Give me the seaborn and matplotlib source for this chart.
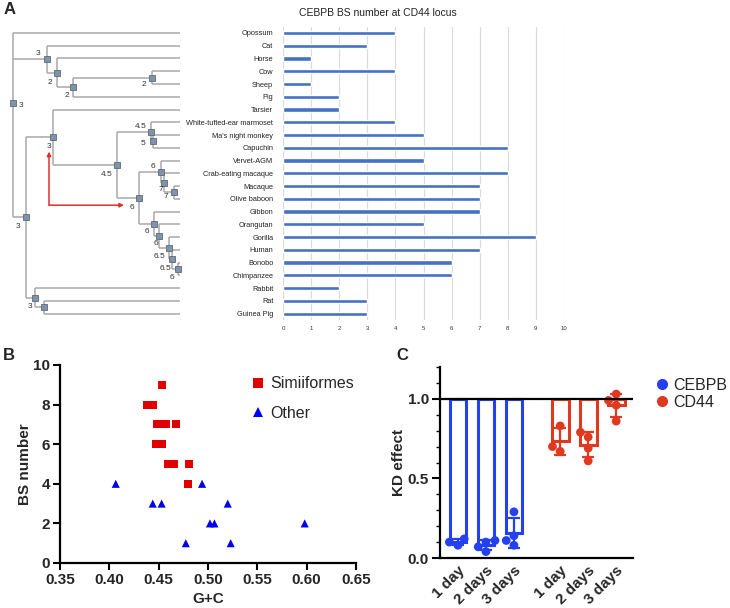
import numpy as np
import pandas as pd
import matplotlib
matplotlib.use("Agg")
import matplotlib.pyplot as plt
import seaborn as sns
from matplotlib.lines import Line2D
from matplotlib.ticker import MultipleLocator

sns.set_theme(style="ticks")
plt.rcParams['font.family'] = ['Liberation Sans', 'DejaVu Sans']

# ---------------- Panel A data ----------------
species = ["Opossum", "Cat", "Horse", "Cow", "Sheep", "Pig", "Tarsier",
           "White-tufted-ear marmoset", "Ma's night monkey", "Capuchin",
           "Vervet-AGM", "Crab-eating macaque", "Macaque", "Olive baboon",
           "Gibbon", "Orangutan", "Gorilla", "Human", "Bonobo", "Chimpanzee",
           "Rabbit", "Rat", "Guinea Pig"]
bs_number = [4, 3, 1, 4, 1, 2, 2, 4, 5, 8, 5, 8, 7, 7, 7, 5, 9, 7, 6, 6, 2, 3, 3]
bar_ticks = list(range(0, 11))

# tree: node -> (x layout, children, ancestral BS label, label offset px (dx, dy-down))
tree = {
    "root":     (13,  ["Opossum", "laur", "euarch"], "3", (8, 2)),
    "laur":     (47,  ["Cat", "hcsp"], "3", (-9, -6)),
    "hcsp":     (57,  ["Horse", "csp"], "2", (-7, 10)),
    "csp":      (73,  ["cs", "Pig"], "2", (-6, 8)),
    "cs":       (152, ["Cow", "Sheep"], "2", (-8, 7)),
    "euarch":   (26,  ["primates", "glires"], "3", (-8, 9)),
    "primates": (53,  ["Tarsier", "simi"], "3", (-4, 9)),
    "simi":     (117, ["nwm", "catarr"], "4.5", (-10, 10)),
    "nwm":      (151, ["White-tufted-ear marmoset", "nc"], "4.5", (-10, -5)),
    "nc":       (153, ["Ma's night monkey", "Capuchin"], "5", (-10, 2)),
    "catarr":   (139, ["owm", "apes"], "6", (-7, 10)),
    "owm":      (161, ["Vervet-AGM", "cm"], "6", (-8, -5)),
    "cm":       (164, ["Crab-eating macaque", "mb"], "7", (-3, 7)),
    "mb":       (174, ["Macaque", "Olive baboon"], "7", (-8, 4)),
    "apes":     (154, ["Gibbon", "ogh"], "6", (-7, 8)),
    "ogh":      (159, ["Orangutan", "ghbc"], "6", (-3, 7)),
    "ghbc":     (169, ["Gorilla", "hbc"], "6.5", (-10, 8)),
    "hbc":      (172, ["Human", "bc"], "6.5", (-7, 9)),
    "bc":       (178, ["Bonobo", "Chimpanzee"], "6", (-6, 9)),
    "glires":   (35,  ["Rabbit", "rg"], "3", (-5, 9)),
    "rg":       (44,  ["Rat", "Guinea Pig"], None, (0, 0)),
}
leaf_x = 180

# ---------------- Panel B data ----------------
simi_gc = [0.453, 0.438, 0.444, 0.448, 0.453, 0.4575, 0.468, 0.447, 0.453,
           0.460, 0.465, 0.481, 0.480]
simi_bs = [9, 8, 8, 7, 7, 7, 7, 6, 6, 5, 5, 5, 4]
other_gc = [0.4065, 0.494, 0.444, 0.453, 0.520, 0.502, 0.5065, 0.598, 0.4775, 0.523]
other_bs = [4, 4, 3, 3, 3, 2, 2, 2, 1, 1]

# ---------------- Panel C data ----------------
time_labels = ["1 day", "2 days", "3 days"]
genes = ["CEBPB", "CD44"]
cebpb_vals = [[0.08, 0.12, 0.10], [0.11, 0.04, 0.10, 0.07], [0.29, 0.14, 0.08, 0.11]]
cd44_vals = [[0.67, 0.83, 0.70], [0.76, 0.69, 0.61, 0.79], [0.99, 0.86, 1.03, 0.96]]
group_pos = [0, 1, 2, 3.65, 4.65, 5.65]

BLUE_C = "#2440f0"
RED_C = "#e0391f"

# ---------------- figure ----------------
W, H = 730, 608
fig = plt.figure(figsize=(W / 100, H / 100), dpi=100)


def ax_px(l, t, r, b):
    return fig.add_axes([l / W, 1 - b / H, (r - l) / W, (b - t) / H])


axA = ax_px(283, 26.6, 564, 320)
axT = ax_px(0, 26.6, 182, 320)
axB = ax_px(60, 365, 356, 563)
axC = ax_px(440, 367, 633, 558)

# ---- Panel A bars ----
dfA = pd.DataFrame({"species": species, "bs": bs_number})
sns.barplot(data=dfA, x="bs", y="species", orient="h", color="#4472C4",
            saturation=1, width=0.33, ax=axA)
axA.set_xlim(0, 10)
axA.set_ylim(22.5, -0.5)
axA.set_xticks(bar_ticks)
axA.set_xticklabels([str(t) for t in bar_ticks])
axA.grid(axis="x", color="#d9d9d9", lw=0.8)
axA.set_axisbelow(True)
for s in axA.spines.values():
    s.set_visible(False)
axA.tick_params(axis="both", length=0)
axA.tick_params(axis="y", labelsize=5.3, labelcolor="#222222", pad=7)
axA.tick_params(axis="x", labelsize=4.3, labelcolor="#333333", pad=4)
axA.set_xlabel("")
axA.set_ylabel("")
fig.text(378 / W, 1 - 13 / H, "CEBPB BS number at CD44 locus", ha="center",
         va="center", fontsize=7.5, color="#222222")

# ---- Panel A tree ----
axT.set_xlim(0, 182)
axT.set_ylim(22.5, -0.5)
axT.axis("off")

ypos = {}


def node_y(n):
    if n in ypos:
        return ypos[n]
    if n in tree:
        y = float(np.mean([node_y(c) for c in tree[n][1]]))
    else:
        y = float(species.index(n))
    ypos[n] = y
    return y


for n in tree:
    node_y(n)

LINE_C = "#a8a8a8"
for n, (x, children, lab, off) in tree.items():
    cys = [ypos[c] for c in children]
    axT.plot([x, x], [min(cys), max(cys)], color=LINE_C, lw=1.1, zorder=1,
             solid_capstyle="butt")
    for c in children:
        cx = tree[c][0] if c in tree else leaf_x
        axT.plot([x, cx], [ypos[c], ypos[c]], color=LINE_C, lw=1.1, zorder=1,
                 solid_capstyle="butt")
for n, (x, children, lab, off) in tree.items():
    axT.plot([x], [ypos[n]], marker="s", ms=4.6, mfc="#8193a6", mec="#5b6b7c",
             mew=0.6, zorder=3)
    if lab:
        axT.annotate(lab, (x, ypos[n]), xytext=(off[0] * 0.72, -off[1] * 0.72),
                     textcoords="offset points", ha="center", va="center",
                     fontsize=6, color="#333333", zorder=4)

arrow_kw = dict(arrowstyle="-|>", color="#e0302a", lw=1.1, mutation_scale=6,
                shrinkA=0, shrinkB=0)
axT.annotate("", xy=(49, 9.3), xytext=(49, 13.5), arrowprops=arrow_kw)
axT.annotate("", xy=(124, 13.5), xytext=(49, 13.5), arrowprops=arrow_kw)

# ---- Panel B ----
dfB = pd.DataFrame({
    "G+C": simi_gc + other_gc,
    "BS number": simi_bs + other_bs,
    "group": ["Simiiformes"] * len(simi_gc) + ["Other"] * len(other_gc),
})
sns.scatterplot(data=dfB, x="G+C", y="BS number", hue="group", style="group",
                markers={"Simiiformes": "s", "Other": "^"},
                palette={"Simiiformes": "#e00000", "Other": "#0000f0"},
                s=34, linewidth=0, ax=axB)
axB.set_xlim(0.35, 0.65)
axB.set_ylim(0, 10)
axB.set_xticks(np.round(np.arange(0.35, 0.651, 0.05), 2))
axB.set_xticklabels([f"{t:.2f}" for t in np.arange(0.35, 0.651, 0.05)])
axB.set_yticks(range(0, 11, 2))
for sp in ["top", "right"]:
    axB.spines[sp].set_visible(False)
for sp in ["left", "bottom"]:
    axB.spines[sp].set_color("black")
    axB.spines[sp].set_linewidth(1.6)
axB.tick_params(axis="both", length=5, width=1.5, color="black",
                labelsize=11, pad=2)
for t in axB.get_xticklabels() + axB.get_yticklabels():
    t.set_fontweight("bold")
axB.set_xlabel("G+C", fontsize=11, fontweight="bold", labelpad=4)
axB.set_ylabel("BS number", fontsize=11, fontweight="bold", labelpad=1)
h, l = axB.get_legend_handles_labels()
axB.legend(h, l, title=None, frameon=False, loc="upper left",
           bbox_to_anchor=(0.625, 0.975), borderaxespad=0, fontsize=11.5,
           markerscale=1.3, handlelength=0.8, handletextpad=0.4,
           labelspacing=0.9)

# ---- Panel C ----
rows = []
k = 0
for gene, vals in zip(genes, [cebpb_vals, cd44_vals]):
    for t, v in zip(time_labels, vals):
        for val in v:
            rows.append({"gene": gene, "time": t, "pos": group_pos[k], "value": val})
        k += 1
dfC = pd.DataFrame(rows)
pal = {"CEBPB": BLUE_C, "CD44": RED_C}

stats = dfC.groupby(["pos", "gene"], sort=True)["value"].agg(["mean", "std"]).reset_index()
for _, r in stats.iterrows():
    c = pal[r["gene"]]
    axC.bar(r["pos"], r["mean"] - 1, bottom=1, width=0.6, fill=False,
            edgecolor=c, linewidth=2.2, zorder=2)
    axC.errorbar(r["pos"], r["mean"], yerr=r["std"], fmt="none", ecolor=c,
                 elinewidth=1.6, capsize=4, capthick=1.6, zorder=2)
sns.swarmplot(data=dfC, x="pos", y="value", hue="gene", palette=pal,
              native_scale=True, size=6.3, ax=axC, legend=False, zorder=3)
axC.axhline(1.0, color="black", lw=1.6, zorder=4)
axC.set_xlim(-0.64, 6.25)
axC.set_ylim(0, 1.2)
axC.set_xticks(group_pos)
axC.set_xticklabels(time_labels * 2, rotation=45, ha="right",
                    rotation_mode="anchor", fontweight="bold", fontsize=11)
axC.set_yticks([0, 0.5, 1.0])
axC.set_yticklabels(["0.0", "0.5", "1.0"], fontweight="bold", fontsize=11)
axC.yaxis.set_minor_locator(MultipleLocator(0.1))
for sp in ["top", "right"]:
    axC.spines[sp].set_visible(False)
for sp in ["left", "bottom"]:
    axC.spines[sp].set_color("black")
    axC.spines[sp].set_linewidth(1.6)
axC.tick_params(axis="y", which="major", length=6, width=1.5, color="black", pad=2)
axC.tick_params(axis="y", which="minor", length=3, width=1.0, color="black")
axC.tick_params(axis="x", length=0, pad=4)
axC.set_xlabel("")
axC.set_ylabel("KD effect", fontsize=11, fontweight="bold", labelpad=1)

handles = [Line2D([], [], marker="o", ls="", color=pal[g], markersize=7) for g in genes]
fig.legend(handles, genes, loc="upper left", bbox_to_anchor=(656 / W, 1 - 378 / H),
           frameon=False, fontsize=11.5, handlelength=0.7, handletextpad=0.35,
           labelspacing=0.1, borderaxespad=0, borderpad=0)

# ---- panel letters ----
for txt, x, y in [("A", 10, 10), ("B", 9, 355), ("C", 402, 356)]:
    fig.text(x / W, 1 - y / H, txt, ha="center", va="center", fontsize=12,
             fontweight="bold")

fig.savefig("out.png", dpi=100)
